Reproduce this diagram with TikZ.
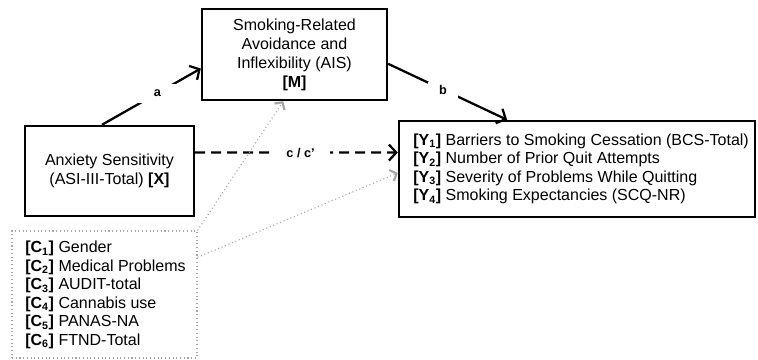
\documentclass[tikz,border=0pt]{standalone}
\usepackage{fontspec}
\setmainfont{Liberation Sans}
\usetikzlibrary{arrows.meta,calc}
\tikzset{
  box/.style={draw=black, line width=1.8pt, inner sep=0pt, font=\fontsize{12}{14.2}\selectfont},
  covbox/.style={draw=gray!70, dotted, line width=0.8pt, inner sep=0pt},
  path/.style={line width=1.7pt, -{Straight Barb[length=5.5pt,width=12pt,line width=1.7pt]}},
  dashpath/.style={path, dash pattern=on 7.5pt off 4.5pt},
  covpath/.style={draw=gray!70, dotted, line width=0.8pt, -{Straight Barb[length=4pt,width=9pt,line width=1.6pt]}},
  lbl/.style={fill=white, font=\bfseries\fontsize{9.5}{11}\selectfont, inner sep=0pt},
  listtext/.style={anchor=west, align=left, font=\fontsize{12}{13.9}\selectfont, inner sep=0pt}
}
\begin{document}
\begin{tikzpicture}[x=0.75pt,y=-0.75pt]
\useasboundingbox (0,0) rectangle (758,360);
% boxes
\node[box, minimum width=169*0.75pt, minimum height=90*0.75pt, align=center] (X) at (109.5,171)
  {Anxiety Sensitivity\\(ASI-III-Total) \textbf{[X]}};
\node[box, minimum width=185*0.75pt, minimum height=91*0.75pt, align=center] (M) at (294.5,54.5)
  {Smoking-Related\\Avoidance and\\Inflexibility (AIS)\\\textbf{[M]}};
\node[box, minimum width=356*0.75pt, minimum height=96*0.75pt] (Y) at (577,169) {};
\node[listtext] (Ytext) at (413,169)
  {\textbf{[Y\textsubscript{1}]} Barriers to Smoking Cessation (BCS-Total)\\
   \textbf{[Y\textsubscript{2}]} Number of Prior Quit Attempts\\
   \textbf{[Y\textsubscript{3}]} Severity of Problems While Quitting\\
   \textbf{[Y\textsubscript{4}]} Smoking Expectancies (SCQ-NR)};
\node[covbox, minimum width=185*0.75pt, minimum height=127*0.75pt] (C) at (104.5,294.5) {};
\node[listtext] (Ctext) at (25,295)
  {\textbf{[C\textsubscript{1}]} Gender\\
   \textbf{[C\textsubscript{2}]} Medical Problems\\
   \textbf{[C\textsubscript{3}]} AUDIT-total\\
   \textbf{[C\textsubscript{4}]} Cannabis use\\
   \textbf{[C\textsubscript{5}]} PANAS-NA\\
   \textbf{[C\textsubscript{6}]} FTND-Total};
% anchor coordinates
\coordinate (aS) at ($(X.north west)!0.456!(X.north east)$);
\coordinate (aE) at ($(M.north west)!0.65!(M.south west)$);
\coordinate (bS) at ($(M.north east)!0.6!(M.south east)$);
\coordinate (bE) at ($(Y.north west)!0.305!(Y.north east)$);
\coordinate (cS) at ($(X.north east)!0.3!(X.south east)$);
\coordinate (cE) at ($(Y.north west)!0.333!(Y.south west)$);
\coordinate (d1E) at ($(M.south west)!0.44!(M.south east)$);
\coordinate (d2S) at ($(C.north east)!0.21!(C.south east)$);
\coordinate (d2E) at ($(Y.north west)!0.54!(Y.south west)$);
% paths
\draw[path] (aS) -- node[lbl, pos=0.56, minimum width=30pt, minimum height=14pt] {a} (aE);
\draw[path] (bS) -- node[lbl, pos=0.46, minimum width=22pt, minimum height=12pt] {b} (bE);
\draw[dashpath] (cS) -- node[lbl, pos=0.52, minimum width=44pt, minimum height=12pt] {c / c'} (cE);
\draw[covpath] (C.north east) -- (d1E);
\draw[covpath] (d2S) -- (d2E);
\end{tikzpicture}
\end{document}
